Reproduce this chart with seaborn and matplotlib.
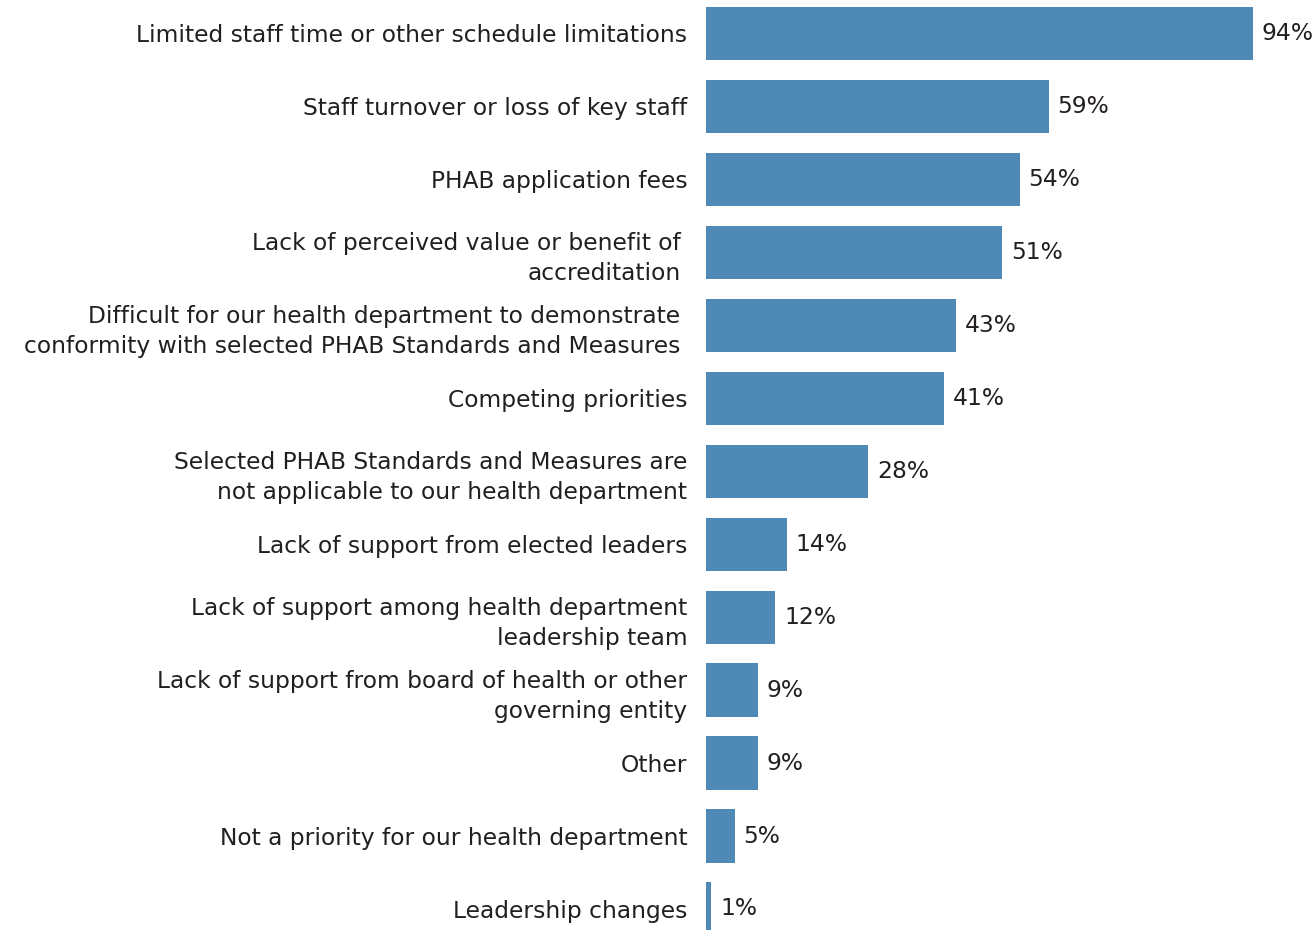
import matplotlib
matplotlib.use("Agg")
import matplotlib.pyplot as plt
import matplotlib.transforms as mtransforms
import seaborn as sns
import pandas as pd

categories = [
    "Limited staff time or other schedule limitations",
    "Staff turnover or loss of key staff",
    "PHAB application fees",
    "Lack of perceived value or benefit of\naccreditation",
    "Difficult for our health department to demonstrate\nconformity with selected PHAB Standards and Measures",
    "Competing priorities",
    "Selected PHAB Standards and Measures are\nnot applicable to our health department",
    "Lack of support from elected leaders",
    "Lack of support among health department\nleadership team",
    "Lack of support from board of health or other\ngoverning entity",
    "Other",
    "Not a priority for our health department",
    "Leadership changes",
]
percentages = [94, 59, 54, 51, 43, 41, 28, 14, 12, 9, 9, 5, 1]

BAR_COLOR = "#4f89b6"
TEXT_COLOR = "#231f20"
FONT = ["DejaVu Sans"]
FONT_SIZE = 16.8

sns.set_theme(style="white")
plt.rcParams["font.family"] = FONT

df = pd.DataFrame({"barrier": categories, "pct": percentages})

fig = plt.figure(figsize=(13.12, 9.30), dpi=100)
ax = fig.add_axes([705.5 / 1312, 0, 606.5 / 1312, 1])

sns.barplot(data=df, y="barrier", x="pct", orient="h", color=BAR_COLOR,
            saturation=1, width=0.73, linewidth=0, ax=ax)

ax.set_xlim(0, 104.2)
ax.set_ylim(12.288, -0.459)
ax.set_xlabel("")
ax.set_ylabel("")
ax.set_xticks([])
sns.despine(ax=ax, left=True, bottom=True)

ax.tick_params(axis="y", length=0, pad=13)
for i, lbl in enumerate(ax.get_yticklabels()):
    lbl.set_fontsize(FONT_SIZE)
    lbl.set_color(TEXT_COLOR)
    lbl.set_linespacing(1.42)
    lbl.set_multialignment("right")
    if i in (3, 4):
        lbl.set_transform(lbl.get_transform() +
                          mtransforms.ScaledTranslation(-7 / 100, 0, fig.dpi_scale_trans))

for container in ax.containers:
    ax.bar_label(container, labels=[f"{v}%" for v in percentages], padding=6.3,
                 fontsize=FONT_SIZE, color=TEXT_COLOR)

fig.savefig("out.png", dpi=100)
